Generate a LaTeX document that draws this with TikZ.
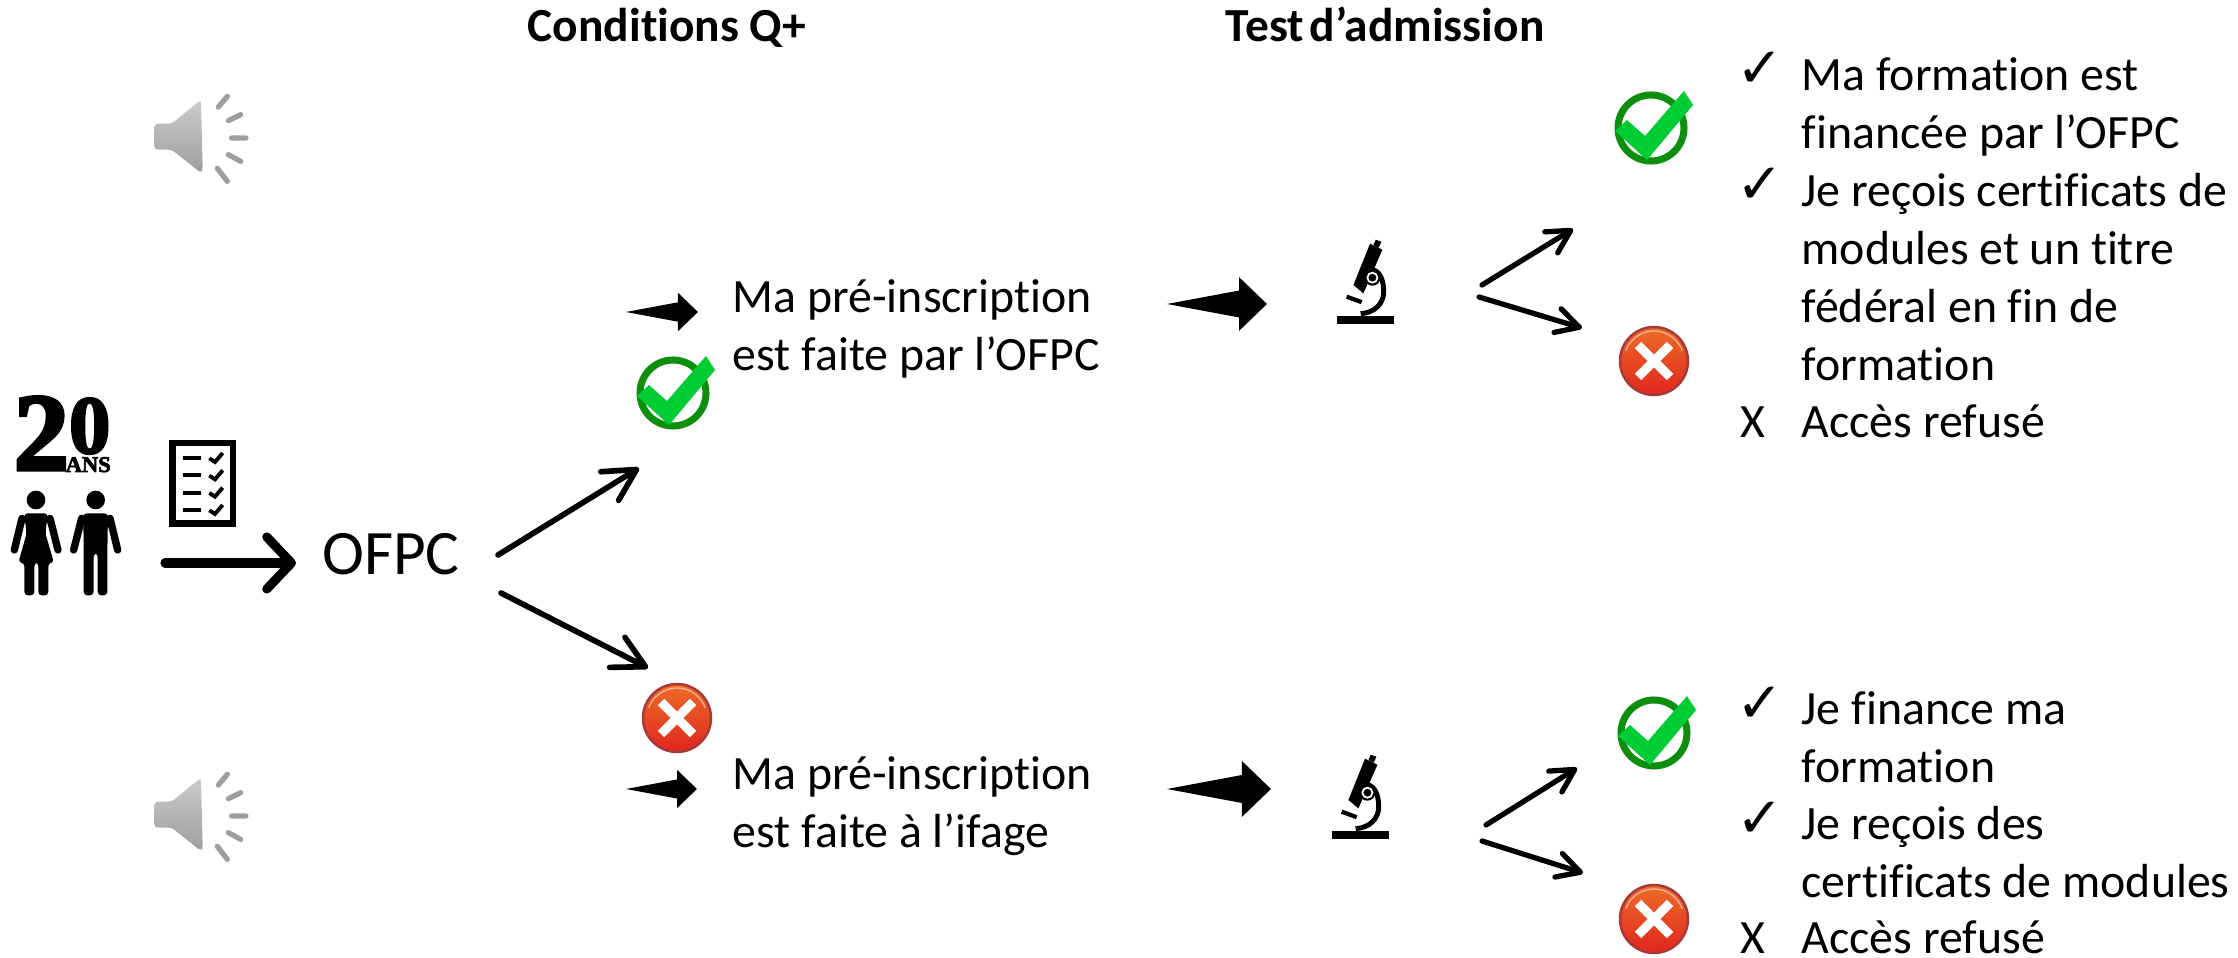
\documentclass[tikz,border=0pt]{standalone}
\usepackage{fontspec}
\setmainfont[Ligatures=NoCommon]{Carlito}
\newfontfamily\bulletfont{DejaVu Sans}
\newfontfamily\fatfont[FakeBold=3]{Liberation Serif}
\usetikzlibrary{arrows.meta,calc,positioning}
\definecolor{okring}{rgb}{0.05,0.56,0.05}
\definecolor{okfill}{rgb}{0,0.80,0.20}
\definecolor{kotop}{rgb}{0.93,0.42,0.15}
\definecolor{kobot}{rgb}{0.88,0.15,0.12}
\definecolor{koring}{rgb}{0.65,0.22,0.22}
\definecolor{spktop}{rgb}{0.80,0.80,0.80}
\definecolor{spkbot}{rgb}{0.62,0.62,0.62}
\tikzstyle{hit}=[-{Straight Barb[round,length=9pt,width=9.6pt]},line width=1.6pt,line cap=round]
\tikzstyle{hitS}=[-{Straight Barb[round,length=6.5pt,width=7pt]},line width=1.5pt,line cap=round]
\tikzstyle{hitL}=[-{Straight Barb[round,length=7pt,width=14.8pt]},line width=2.6pt,line cap=round]
\tikzstyle{Atext}=[inner sep=0,align=left,anchor=base west,font=\fontsize{13.6}{16.5}\selectfont]
\tikzstyle{Ahead}=[inner sep=0,anchor=base west,font=\fontsize{13.5}{16.5}\selectfont\bfseries]
\tikzstyle{Abul}=[inner sep=0,font=\fontsize{16}{18}\bulletfont]
\tikzstyle{Across}=[inner sep=0,anchor=base,font=\fontsize{13.6}{16.5}\selectfont]
\tikzset{
  fatto/.style={to path={
    -- ($(\tikztostart)!.72!(\tikztotarget)!.48!90:(\tikztotarget)$)
    -- ($(\tikztostart)!.72!(\tikztotarget)!.96!90:(\tikztotarget)$)
    -- (\tikztotarget)
    -- ($(\tikztostart)!.72!(\tikztotarget)!.96!-90:(\tikztotarget)$)
    -- ($(\tikztostart)!.72!(\tikztotarget)!.48!-90:(\tikztotarget)$)
    -- cycle}},
  okmark/.pic={
    \draw[okring,line width=2pt] (0,0) circle[radius=33];
    \fill[okfill] (-36,3) -- (-24,-8) -- (-6,8) -- (33,-37) -- (42,-23) -- (-4,32) -- cycle;
  },
  komark/.pic={
    \shade[top color=kotop,bottom color=kobot] (0,0) circle[radius=34];
    \draw[koring,line width=.7pt] (0,0) circle[radius=34];
    \draw[white,opacity=.5,line width=.4pt] (200:30) arc (200:340:30);
    \draw[white,line width=2.6pt] (-16,-16) -- (16,16) (-16,16) -- (16,-16);
  },
  speaker/.pic={
    \begin{scope}[scale=1/3,shift={(-240,-205)}]
    \shade[top color=spktop,bottom color=spkbot,rounded corners=1pt]
      (103,162) -- (155,162) -- (243,90) -- (248,300) -- (243,310) -- (155,240) -- (103,240) -- cycle;
    \draw[spkbot,line width=1.5pt,line cap=round]
      (295,112) -- (322,80) (325,153) -- (362,135) (335,205) -- (378,205)
      (325,255) -- (362,275) (292,296) -- (322,335);
    \end{scope}
  },
  microscope/.pic={
    \fill (3.3,-43) -- (15.7,-37) -- (-3.3,6.7) -- (-13.3,-1.7) -- cycle;
    \fill (9,-47) -- (14.7,-45) -- (12,-39) -- (6.7,-41.7) -- cycle;
    \draw[line width=1.4pt] (6,-17) .. controls (14,-15) and (17,-5) .. (17,5)
      .. controls (17,17) and (8,26) .. (-6,27);
    \fill (5.7,-9) circle[radius=8];
    \draw[white,line width=.5pt] (5.7,-9) circle[radius=5];
    \draw[line width=1.2pt] (-20,10) -- (-5,15.5);
    \fill (-29.3,29.3) rectangle (27.3,37);
  },
}
\begin{document}
\begin{tikzpicture}[x=.01cm,y=-.01cm]
\useasboundingbox (0,0) rectangle (2238,958);

\node[Ahead] (condq) at (527,42) {Conditions Q+};
\node[Ahead] (testad) at (1225,42) {Test\hspace{-.1em} d’admission};

\pic at (200,138) {speaker};
\pic at (200,816) {speaker};

% groupe de gauche
\node[inner sep=0,anchor=base west,font=\fontsize{31.5}{30}\fatfont\bfseries] (vingt) at (13,470)
  {2\raisebox{4.8pt}{\fontsize{23.5}{23}\selectfont 0}};
\node[inner sep=0,anchor=base west,font=\fontsize{6.4}{7}\fatfont\bfseries] (ans) at (65,472) {ANS};

\begin{scope}[shift={(0,370)},scale=1/3]
\fill (108,390) circle[radius=28];
\fill (287,390) circle[radius=28];
\fill[rounded corners=1pt] (72,430) -- (144,430) -- (136,490) -- (162,578) -- (145,578)
  -- (145,676) -- (115,676) -- (115,578) -- (103,578) -- (103,676) -- (73,676) -- (73,578)
  -- (55,578) -- (80,490) -- cycle;
\fill[rounded corners=1pt] (250,430) -- (324,430) -- (322,550) -- (322,676) -- (293,676)
  -- (293,550) -- (281,550) -- (281,676) -- (251,676) -- (251,550) -- cycle;
\draw[line width=2.1pt,line cap=round]
  (66,445) -- (43,540) (150,445) -- (174,540)
  (245,445) -- (221,540) (330,445) -- (353,540);
\draw[line width=1.9pt] (518,219) rectangle (699,460);
\foreach \ly in {264,316,368,420}{
  \draw[line width=1.1pt] (548,\ly) -- (603,\ly);
  \draw[line width=1.1pt] (628,\ly+1) -- (645,\ly+12) -- (668,\ly-15);
}
\end{scope}

\coordinate (startO) at (165,563);
\node[inner sep=0,anchor=base,font=\fontsize{18}{20}\selectfont] (ofpc) at (391,575) {OFPC};
\coordinate (endO) at (296,563);
\draw[hitL] (startO) -- (endO);

\coordinate (ofpcup) at (498,555);
\coordinate (ofpcdn) at (501,593);
\coordinate (okAtip) at (639,468);
\coordinate (koAtip) at (648,668);
\draw[hit] (ofpcup) -- (okAtip);
\draw[hit] (ofpcdn) -- (koAtip);

\coordinate (okA) at (673,393);
\coordinate (koA) at (677,718);
\pic at (okA) {okmark};
\pic at (koA) {komark};

% pre-inscription
\coordinate (sA) at (626,312);
\coordinate (sAtip) at (698,312);
\coordinate (sB) at (626,789);
\coordinate (sBtip) at (697,789);
\fill (sA) to[fatto] (sAtip);
\fill (sB) to[fatto] (sBtip);
\node[Atext] (preA) at (732,370.5) {Ma pré-inscription\\est faite par l’OFPC};
\node[Atext] (preB) at (732,847.5) {Ma pré-inscription\\est faite à l’ifage};

% test
\coordinate (bA) at (1167,304);
\coordinate (bAtip) at (1267,304);
\coordinate (bB) at (1167,789);
\coordinate (bBtip) at (1271,789);
\fill (bA) to[fatto] (bAtip);
\fill (bB) to[fatto] (bBtip);
\pic at (1366.7,286.7) {microscope};
\pic at (1361.7,801.7) {microscope};

\coordinate (fAu) at (1482,285);
\coordinate (fAuT) at (1573,229);
\coordinate (fAd) at (1479,297);
\coordinate (fAdT) at (1582,328);
\coordinate (fBu) at (1486,825);
\coordinate (fBuT) at (1577,768);
\coordinate (fBd) at (1482,841);
\coordinate (fBdT) at (1583,873);
\draw[hitS] (fAu) -- (fAuT);
\draw[hitS] (fAd) -- (fAdT);
\draw[hitS] (fBu) -- (fBuT);
\draw[hitS] (fBd) -- (fBdT);

\pic at (1651,128) {okmark};
\pic at (1654,361) {komark};
\pic at (1654,733) {okmark};
\pic at (1654,919) {komark};

% listes
\node[Abul] (b1) at (1760,70) {✓};
\node[Atext] (t1) at (1801,148.5) {Ma formation est\\financée par l’OFPC};
\node[Abul] (b2) at (1760,186) {✓};
\node[Atext] (t2) at (1801,380.5) {Je reçois certificats de\\modules et un titre\\fédéral en fin de\\formation};
\node[Across] (b3) at (1753,438) {X};
\node[Atext] (t3) at (1801,438) {Accès refusé};
\node[Abul] (b4) at (1760,705) {✓};
\node[Atext] (t4) at (1801,783) {Je finance ma\\formation};
\node[Abul] (b5) at (1760,820) {✓};
\node[Atext] (t5) at (1801,898) {Je reçois des\\certificats de modules};
\node[Across] (b6) at (1753,954) {X};
\node[Atext] (t6) at (1801,954) {Accès refusé};
\end{tikzpicture}
\end{document}
